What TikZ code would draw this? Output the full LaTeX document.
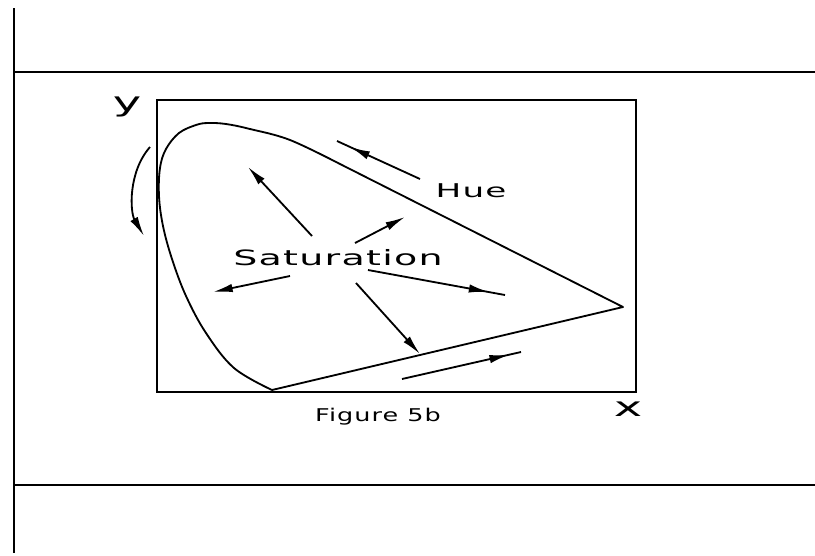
\documentclass[tikz,border=0pt]{standalone}
\usepackage{fontspec}
\newfontfamily\plotfont[FakeStretch=1.8,LetterSpace=6]{DejaVu Sans}
\newfontfamily\capfont[FakeStretch=1.45,LetterSpace=6]{DejaVu Sans}
\usetikzlibrary{arrows.meta,decorations.markings}
\begin{document}
\begin{tikzpicture}[x=0.025cm, y=-0.025cm, line width=1.3pt,
  >={Latex[length=14pt,width=6pt]},
  lbl/.style={font=\plotfont, inner sep=0pt, anchor=base},
  tipmark/.style={postaction={decorate}, decoration={markings, mark=at position #1 with {\arrow{>}}}}]
\useasboundingbox (0,0) rectangle (815,555);
% page rules
\draw (14,8) -- (14,553);
\draw (14,72) -- (815,72);
\draw (14,485) -- (815,485);
% chart frame
\draw (157,100) rectangle (636,392);
% chromaticity outline
\draw[line join=round] plot[smooth, tension=0.6] coordinates {(272,390) (234,368) (206,333) (186,296) (172,259) (163,226) (159,196) (160,168) (166,149) (179,133) (196,125) (208,123) (226,124) (250,129) (290,140) (340,164)} -- (623,307) -- (272,390);
% labels
\node[lbl, font=\plotfont\fontsize{19}{22}\selectfont] (ylab) at (127,111) {y};
\node[lbl, font=\plotfont\fontsize{19}{22}\selectfont] (xlab) at (628,416) {x};
\node[lbl, font=\plotfont\fontsize{15}{18}\selectfont] (sat) at (338,265) {Saturation};
\node[lbl, font=\plotfont\fontsize{13.5}{16}\selectfont] (hue) at (471,197) {Hue};
\node[lbl, font=\capfont\fontsize{12.5}{15}\selectfont] (fig) at (378,421) {Figure 5b};
% saturation arrows
\draw[->] (312,236) -- (248,167);
\draw[->] (355,243) -- (405,217);
\draw[->] (290,276) -- (213,292);
\draw[tipmark=0.88] (368,270) -- (505,295);
\draw[->] (356,283) -- (420,354);
% hue arrows
\draw[tipmark=0.84] (420,179) -- (337,141);
\draw[tipmark=0.9] (402,379) -- (521,352);
\draw[->] (150,147) .. controls (128,172) and (130,212) .. (144,236);
\end{tikzpicture}
\end{document}
